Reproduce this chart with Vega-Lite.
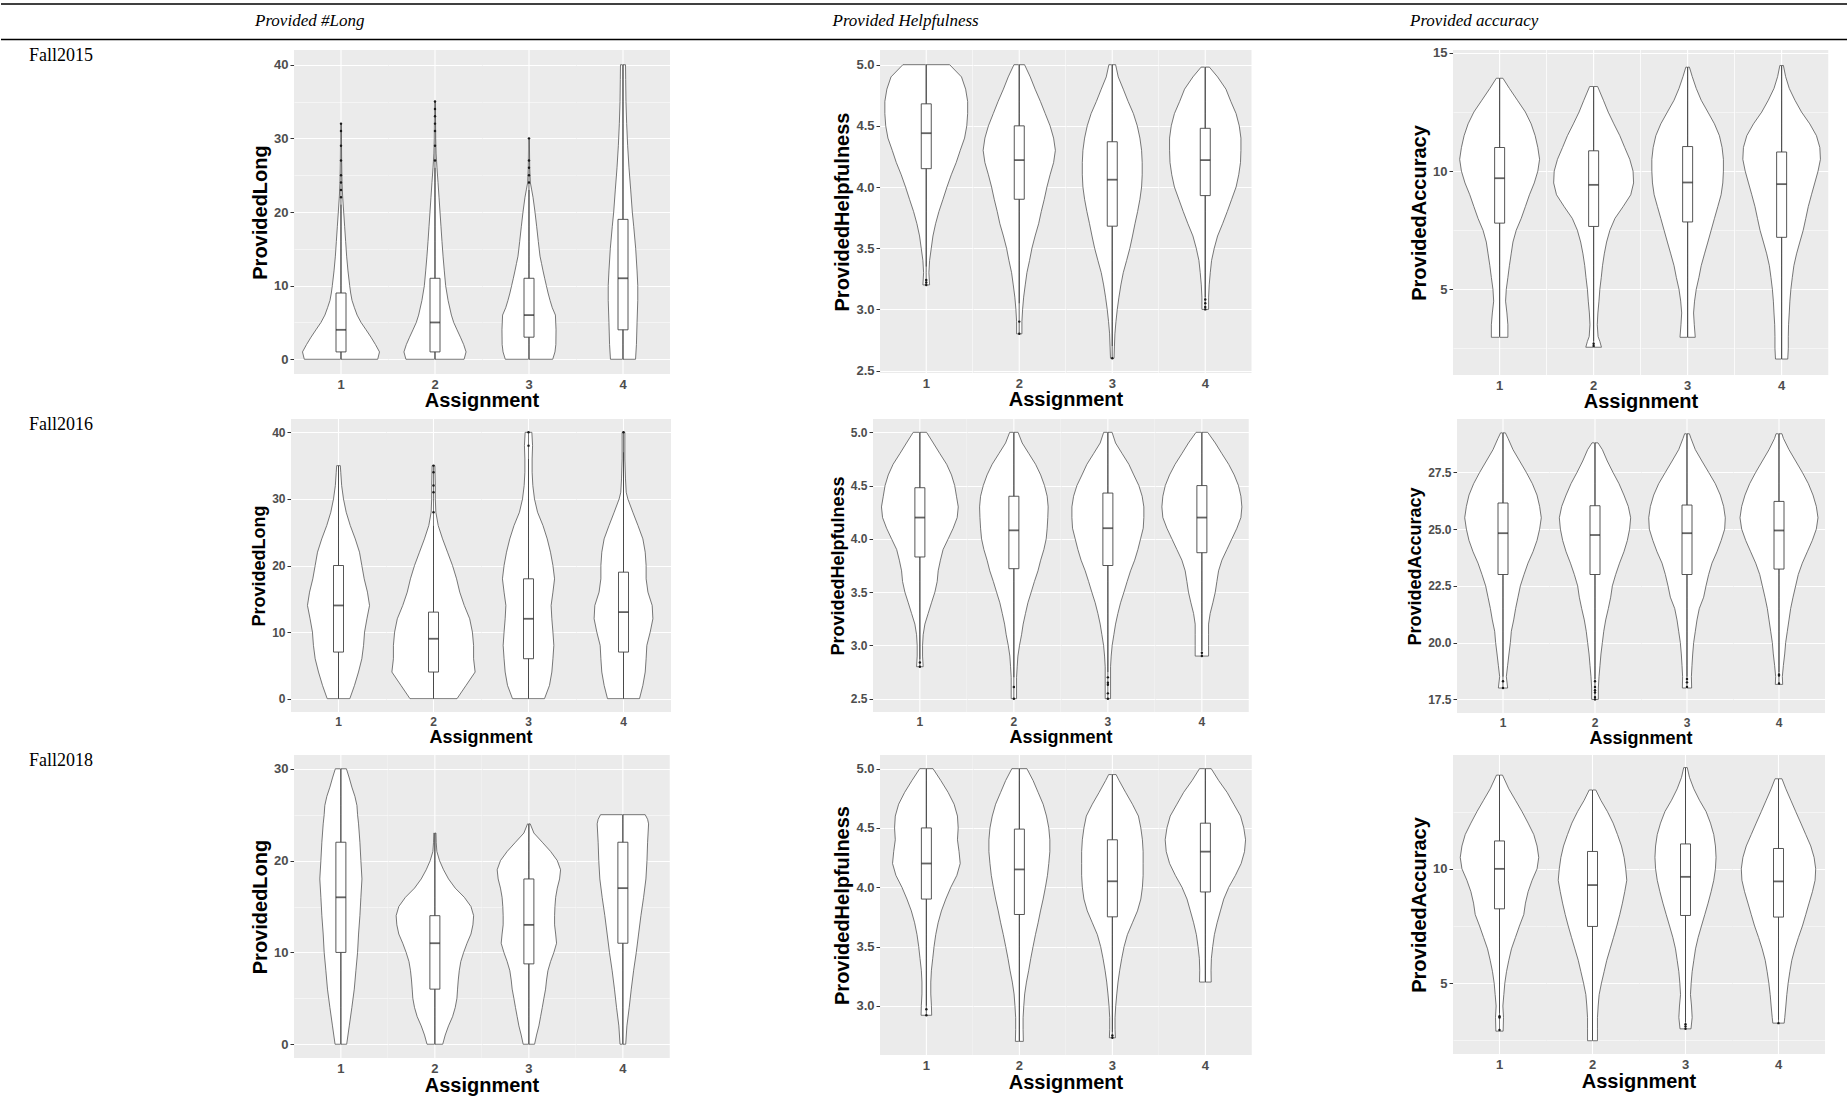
{
"$schema": "https://vega.github.io/schema/vega-lite/v6.json",
"padding": 0,
"background": "white",
"spacing": 4,
"config": {
  "view": {"stroke": null},
  "font": "Liberation Sans",
  "axis": {"labelFont": "Liberation Sans", "labelFontWeight": "bold", "labelColor": "#4D4D4D", "labelFontSize": 13, "titleFont": "Liberation Sans", "titleFontWeight": "bold", "titleFontSize": 20, "titleColor": "black", "tickColor": "#333333", "tickSize": 4, "domain": false, "gridColor": "white", "gridWidth": 1.1, "labelPadding": 2, "titlePadding": 3, "labelOverlap": false},
  "header": {"labelFont": "Liberation Sans", "labelFontWeight": "bold", "labelColor": "#4D4D4D", "labelFontSize": 13, "titleFont": "Liberation Sans", "titleFontWeight": "bold", "titleFontSize": 20, "titleColor": "black", "labelPadding": 4, "titlePadding": -11}
},
"datasets": {
"p11": [
{"k":"v","a":1,"y":0,"d":0.41},{"k":"v","a":1,"y":1,"d":0.43},{"k":"v","a":1,"y":2,"d":0.385},{"k":"v","a":1,"y":3,"d":0.335},{"k":"v","a":1,"y":4,"d":0.28},{"k":"v","a":1,"y":5,"d":0.224},{"k":"v","a":1,"y":6,"d":0.18},{"k":"v","a":1,"y":7,"d":0.15},{"k":"v","a":1,"y":8,"d":0.123},{"k":"v","a":1,"y":9,"d":0.108},{"k":"v","a":1,"y":10,"d":0.097},{"k":"v","a":1,"y":12,"d":0.078},{"k":"v","a":1,"y":14,"d":0.063},{"k":"v","a":1,"y":16,"d":0.052},{"k":"v","a":1,"y":18,"d":0.041},{"k":"v","a":1,"y":20,"d":0.03},{"k":"v","a":1,"y":22,"d":0.019},{"k":"v","a":1,"y":24,"d":0.011},{"k":"v","a":1,"y":27,"d":0.007},{"k":"v","a":1,"y":32,"d":0.004},
{"k":"v","a":2,"y":0,"d":0.325},{"k":"v","a":2,"y":1,"d":0.347},{"k":"v","a":2,"y":2,"d":0.32},{"k":"v","a":2,"y":3,"d":0.284},{"k":"v","a":2,"y":4,"d":0.246},{"k":"v","a":2,"y":5,"d":0.209},{"k":"v","a":2,"y":6,"d":0.183},{"k":"v","a":2,"y":8,"d":0.146},{"k":"v","a":2,"y":10,"d":0.119},{"k":"v","a":2,"y":12,"d":0.104},{"k":"v","a":2,"y":14,"d":0.09},{"k":"v","a":2,"y":16,"d":0.078},{"k":"v","a":2,"y":18,"d":0.067},{"k":"v","a":2,"y":20,"d":0.056},{"k":"v","a":2,"y":22,"d":0.045},{"k":"v","a":2,"y":24,"d":0.034},{"k":"v","a":2,"y":26,"d":0.022},{"k":"v","a":2,"y":28,"d":0.012},{"k":"v","a":2,"y":30,"d":0.008},{"k":"v","a":2,"y":35,"d":0.004},
{"k":"v","a":3,"y":0,"d":0.265},{"k":"v","a":3,"y":1,"d":0.29},{"k":"v","a":3,"y":2,"d":0.3},{"k":"v","a":3,"y":4,"d":0.302},{"k":"v","a":3,"y":6,"d":0.295},{"k":"v","a":3,"y":7,"d":0.26},{"k":"v","a":3,"y":8,"d":0.235},{"k":"v","a":3,"y":9,"d":0.213},{"k":"v","a":3,"y":10,"d":0.194},{"k":"v","a":3,"y":11,"d":0.175},{"k":"v","a":3,"y":12,"d":0.157},{"k":"v","a":3,"y":13,"d":0.14},{"k":"v","a":3,"y":14,"d":0.123},{"k":"v","a":3,"y":16,"d":0.104},{"k":"v","a":3,"y":18,"d":0.086},{"k":"v","a":3,"y":20,"d":0.067},{"k":"v","a":3,"y":22,"d":0.045},{"k":"v","a":3,"y":23,"d":0.03},{"k":"v","a":3,"y":24,"d":0.015},{"k":"v","a":3,"y":26,"d":0.008},{"k":"v","a":3,"y":30,"d":0.004},
{"k":"v","a":4,"y":0,"d":0.14},{"k":"v","a":4,"y":2,"d":0.15},{"k":"v","a":4,"y":5,"d":0.157},{"k":"v","a":4,"y":8,"d":0.165},{"k":"v","a":4,"y":10,"d":0.165},{"k":"v","a":4,"y":12,"d":0.157},{"k":"v","a":4,"y":15,"d":0.142},{"k":"v","a":4,"y":18,"d":0.12},{"k":"v","a":4,"y":20,"d":0.104},{"k":"v","a":4,"y":23,"d":0.086},{"k":"v","a":4,"y":26,"d":0.067},{"k":"v","a":4,"y":29,"d":0.052},{"k":"v","a":4,"y":32,"d":0.041},{"k":"v","a":4,"y":35,"d":0.033},{"k":"v","a":4,"y":38,"d":0.03},{"k":"v","a":4,"y":40,"d":0.028},
{"k":"b","a":1,"lo":0,"q1":1,"med":4,"q3":9,"hi":21},{"k":"b","a":2,"lo":0,"q1":1,"med":5,"q3":11,"hi":26},{"k":"b","a":3,"lo":0,"q1":3,"med":6,"q3":11,"hi":23},{"k":"b","a":4,"lo":0,"q1":4,"med":11,"q3":19,"hi":40},
{"k":"o","a":1,"y":22},{"k":"o","a":1,"y":23},{"k":"o","a":1,"y":24},{"k":"o","a":1,"y":25},{"k":"o","a":1,"y":27},{"k":"o","a":1,"y":29},{"k":"o","a":1,"y":31},{"k":"o","a":1,"y":32},
{"k":"o","a":2,"y":27},{"k":"o","a":2,"y":29},{"k":"o","a":2,"y":31},{"k":"o","a":2,"y":32},{"k":"o","a":2,"y":33},{"k":"o","a":2,"y":34},{"k":"o","a":2,"y":35},
{"k":"o","a":3,"y":24},{"k":"o","a":3,"y":25},{"k":"o","a":3,"y":26},{"k":"o","a":3,"y":27},{"k":"o","a":3,"y":30}
],
"p12": [
{"k":"v","a":1,"y":3.2,"d":0.038},{"k":"v","a":1,"y":3.3,"d":0.03},{"k":"v","a":1,"y":3.4,"d":0.038},{"k":"v","a":1,"y":3.5,"d":0.057},{"k":"v","a":1,"y":3.6,"d":0.076},{"k":"v","a":1,"y":3.7,"d":0.106},{"k":"v","a":1,"y":3.8,"d":0.144},{"k":"v","a":1,"y":3.9,"d":0.19},{"k":"v","a":1,"y":4.0,"d":0.235},{"k":"v","a":1,"y":4.1,"d":0.284},{"k":"v","a":1,"y":4.2,"d":0.34},{"k":"v","a":1,"y":4.3,"d":0.386},{"k":"v","a":1,"y":4.4,"d":0.435},{"k":"v","a":1,"y":4.5,"d":0.46},{"k":"v","a":1,"y":4.6,"d":0.47},{"k":"v","a":1,"y":4.7,"d":0.47},{"k":"v","a":1,"y":4.8,"d":0.447},{"k":"v","a":1,"y":4.9,"d":0.4},{"k":"v","a":1,"y":5.0,"d":0.265},
{"k":"v","a":2,"y":2.8,"d":0.03},{"k":"v","a":2,"y":2.9,"d":0.03},{"k":"v","a":2,"y":3.0,"d":0.038},{"k":"v","a":2,"y":3.1,"d":0.05},{"k":"v","a":2,"y":3.2,"d":0.068},{"k":"v","a":2,"y":3.3,"d":0.087},{"k":"v","a":2,"y":3.4,"d":0.117},{"k":"v","a":2,"y":3.5,"d":0.144},{"k":"v","a":2,"y":3.6,"d":0.18},{"k":"v","a":2,"y":3.7,"d":0.22},{"k":"v","a":2,"y":3.8,"d":0.25},{"k":"v","a":2,"y":3.9,"d":0.284},{"k":"v","a":2,"y":4.0,"d":0.314},{"k":"v","a":2,"y":4.1,"d":0.35},{"k":"v","a":2,"y":4.2,"d":0.39},{"k":"v","a":2,"y":4.3,"d":0.41},{"k":"v","a":2,"y":4.4,"d":0.39},{"k":"v","a":2,"y":4.5,"d":0.35},{"k":"v","a":2,"y":4.6,"d":0.295},{"k":"v","a":2,"y":4.7,"d":0.24},{"k":"v","a":2,"y":4.8,"d":0.18},{"k":"v","a":2,"y":4.9,"d":0.125},{"k":"v","a":2,"y":5.0,"d":0.06},
{"k":"v","a":3,"y":2.6,"d":0.02},{"k":"v","a":3,"y":2.7,"d":0.025},{"k":"v","a":3,"y":2.8,"d":0.03},{"k":"v","a":3,"y":2.9,"d":0.042},{"k":"v","a":3,"y":3.0,"d":0.057},{"k":"v","a":3,"y":3.1,"d":0.076},{"k":"v","a":3,"y":3.2,"d":0.098},{"k":"v","a":3,"y":3.3,"d":0.125},{"k":"v","a":3,"y":3.4,"d":0.163},{"k":"v","a":3,"y":3.5,"d":0.2},{"k":"v","a":3,"y":3.6,"d":0.23},{"k":"v","a":3,"y":3.7,"d":0.258},{"k":"v","a":3,"y":3.8,"d":0.288},{"k":"v","a":3,"y":3.9,"d":0.314},{"k":"v","a":3,"y":4.0,"d":0.333},{"k":"v","a":3,"y":4.1,"d":0.34},{"k":"v","a":3,"y":4.2,"d":0.34},{"k":"v","a":3,"y":4.3,"d":0.333},{"k":"v","a":3,"y":4.4,"d":0.314},{"k":"v","a":3,"y":4.5,"d":0.284},{"k":"v","a":3,"y":4.6,"d":0.24},{"k":"v","a":3,"y":4.7,"d":0.18},{"k":"v","a":3,"y":4.8,"d":0.125},{"k":"v","a":3,"y":4.9,"d":0.068},{"k":"v","a":3,"y":5.0,"d":0.038},
{"k":"v","a":4,"y":3.0,"d":0.038},{"k":"v","a":4,"y":3.1,"d":0.038},{"k":"v","a":4,"y":3.2,"d":0.045},{"k":"v","a":4,"y":3.3,"d":0.057},{"k":"v","a":4,"y":3.4,"d":0.072},{"k":"v","a":4,"y":3.5,"d":0.102},{"k":"v","a":4,"y":3.6,"d":0.14},{"k":"v","a":4,"y":3.7,"d":0.197},{"k":"v","a":4,"y":3.8,"d":0.25},{"k":"v","a":4,"y":3.9,"d":0.3},{"k":"v","a":4,"y":4.0,"d":0.35},{"k":"v","a":4,"y":4.1,"d":0.38},{"k":"v","a":4,"y":4.2,"d":0.4},{"k":"v","a":4,"y":4.3,"d":0.405},{"k":"v","a":4,"y":4.4,"d":0.405},{"k":"v","a":4,"y":4.5,"d":0.386},{"k":"v","a":4,"y":4.6,"d":0.35},{"k":"v","a":4,"y":4.7,"d":0.29},{"k":"v","a":4,"y":4.8,"d":0.235},{"k":"v","a":4,"y":4.9,"d":0.14},{"k":"v","a":4,"y":4.98,"d":0.047},
{"k":"b","a":1,"lo":3.35,"q1":4.15,"med":4.44,"q3":4.68,"hi":5.0},{"k":"b","a":2,"lo":3.05,"q1":3.9,"med":4.22,"q3":4.5,"hi":5.0},{"k":"b","a":3,"lo":2.7,"q1":3.68,"med":4.06,"q3":4.37,"hi":5.0},{"k":"b","a":4,"lo":3.1,"q1":3.93,"med":4.22,"q3":4.48,"hi":4.98},
{"k":"o","a":1,"y":3.24},{"k":"o","a":1,"y":3.22},{"k":"o","a":1,"y":3.2},{"k":"o","a":2,"y":2.9},{"k":"o","a":2,"y":2.8},{"k":"o","a":3,"y":2.6},{"k":"o","a":4,"y":3.08},{"k":"o","a":4,"y":3.05},{"k":"o","a":4,"y":3.02},{"k":"o","a":4,"y":3.0}
],
"p13": [
{"k":"v","a":1,"y":2.97,"d":0.093},{"k":"v","a":1,"y":3.5,"d":0.093},{"k":"v","a":1,"y":4,"d":0.082},{"k":"v","a":1,"y":4.5,"d":0.067},{"k":"v","a":1,"y":5,"d":0.075},{"k":"v","a":1,"y":5.5,"d":0.093},{"k":"v","a":1,"y":6,"d":0.11},{"k":"v","a":1,"y":6.5,"d":0.13},{"k":"v","a":1,"y":7,"d":0.15},{"k":"v","a":1,"y":7.5,"d":0.187},{"k":"v","a":1,"y":8,"d":0.243},{"k":"v","a":1,"y":8.5,"d":0.29},{"k":"v","a":1,"y":9,"d":0.336},{"k":"v","a":1,"y":9.5,"d":0.39},{"k":"v","a":1,"y":10,"d":0.43},{"k":"v","a":1,"y":10.5,"d":0.45},{"k":"v","a":1,"y":11,"d":0.43},{"k":"v","a":1,"y":11.5,"d":0.4},{"k":"v","a":1,"y":12,"d":0.355},{"k":"v","a":1,"y":12.5,"d":0.29},{"k":"v","a":1,"y":13,"d":0.2},{"k":"v","a":1,"y":13.5,"d":0.11},{"k":"v","a":1,"y":13.93,"d":0.037},
{"k":"v","a":2,"y":2.55,"d":0.088},{"k":"v","a":2,"y":2.8,"d":0.07},{"k":"v","a":2,"y":3,"d":0.05},{"k":"v","a":2,"y":3.5,"d":0.041},{"k":"v","a":2,"y":4,"d":0.048},{"k":"v","a":2,"y":4.5,"d":0.06},{"k":"v","a":2,"y":5,"d":0.07},{"k":"v","a":2,"y":5.5,"d":0.086},{"k":"v","a":2,"y":6,"d":0.1},{"k":"v","a":2,"y":6.5,"d":0.12},{"k":"v","a":2,"y":7,"d":0.146},{"k":"v","a":2,"y":7.5,"d":0.183},{"k":"v","a":2,"y":8,"d":0.24},{"k":"v","a":2,"y":8.5,"d":0.332},{"k":"v","a":2,"y":9,"d":0.418},{"k":"v","a":2,"y":9.5,"d":0.45},{"k":"v","a":2,"y":10,"d":0.444},{"k":"v","a":2,"y":10.5,"d":0.407},{"k":"v","a":2,"y":11,"d":0.35},{"k":"v","a":2,"y":11.5,"d":0.295},{"k":"v","a":2,"y":12,"d":0.228},{"k":"v","a":2,"y":12.5,"d":0.164},{"k":"v","a":2,"y":13,"d":0.11},{"k":"v","a":2,"y":13.58,"d":0.045},
{"k":"v","a":3,"y":2.97,"d":0.086},{"k":"v","a":3,"y":3.5,"d":0.075},{"k":"v","a":3,"y":4,"d":0.067},{"k":"v","a":3,"y":4.5,"d":0.078},{"k":"v","a":3,"y":5,"d":0.097},{"k":"v","a":3,"y":5.5,"d":0.127},{"k":"v","a":3,"y":6,"d":0.153},{"k":"v","a":3,"y":6.5,"d":0.19},{"k":"v","a":3,"y":7,"d":0.228},{"k":"v","a":3,"y":7.5,"d":0.265},{"k":"v","a":3,"y":8,"d":0.302},{"k":"v","a":3,"y":8.5,"d":0.34},{"k":"v","a":3,"y":9,"d":0.377},{"k":"v","a":3,"y":9.5,"d":0.396},{"k":"v","a":3,"y":10,"d":0.403},{"k":"v","a":3,"y":10.5,"d":0.403},{"k":"v","a":3,"y":11,"d":0.388},{"k":"v","a":3,"y":11.5,"d":0.358},{"k":"v","a":3,"y":12,"d":0.302},{"k":"v","a":3,"y":12.5,"d":0.228},{"k":"v","a":3,"y":13,"d":0.153},{"k":"v","a":3,"y":13.5,"d":0.097},{"k":"v","a":3,"y":14,"d":0.052},{"k":"v","a":3,"y":14.4,"d":0.02},
{"k":"v","a":4,"y":2.05,"d":0.069},{"k":"v","a":4,"y":2.5,"d":0.075},{"k":"v","a":4,"y":3,"d":0.075},{"k":"v","a":4,"y":3.5,"d":0.078},{"k":"v","a":4,"y":4,"d":0.086},{"k":"v","a":4,"y":4.5,"d":0.093},{"k":"v","a":4,"y":5,"d":0.104},{"k":"v","a":4,"y":5.5,"d":0.12},{"k":"v","a":4,"y":6,"d":0.138},{"k":"v","a":4,"y":6.5,"d":0.168},{"k":"v","a":4,"y":7,"d":0.205},{"k":"v","a":4,"y":7.5,"d":0.243},{"k":"v","a":4,"y":8,"d":0.272},{"k":"v","a":4,"y":8.5,"d":0.3},{"k":"v","a":4,"y":9,"d":0.336},{"k":"v","a":4,"y":9.5,"d":0.373},{"k":"v","a":4,"y":10,"d":0.41},{"k":"v","a":4,"y":10.5,"d":0.437},{"k":"v","a":4,"y":11,"d":0.43},{"k":"v","a":4,"y":11.5,"d":0.392},{"k":"v","a":4,"y":12,"d":0.317},{"k":"v","a":4,"y":12.5,"d":0.224},{"k":"v","a":4,"y":13,"d":0.15},{"k":"v","a":4,"y":13.5,"d":0.086},{"k":"v","a":4,"y":14,"d":0.045},{"k":"v","a":4,"y":14.47,"d":0.02},
{"k":"b","a":1,"lo":3.0,"q1":7.8,"med":9.7,"q3":11.0,"hi":13.93},{"k":"b","a":2,"lo":2.8,"q1":7.66,"med":9.42,"q3":10.86,"hi":13.58},{"k":"b","a":3,"lo":2.97,"q1":7.85,"med":9.52,"q3":11.04,"hi":14.4},{"k":"b","a":4,"lo":2.05,"q1":7.2,"med":9.45,"q3":10.81,"hi":14.47},
{"k":"o","a":2,"y":2.7},{"k":"o","a":2,"y":2.6}
],
"p21": [
{"k":"v","a":1,"y":0,"d":0.125},{"k":"v","a":1,"y":2,"d":0.177},{"k":"v","a":1,"y":4,"d":0.221},{"k":"v","a":1,"y":6,"d":0.258},{"k":"v","a":1,"y":8,"d":0.277},{"k":"v","a":1,"y":10,"d":0.288},{"k":"v","a":1,"y":12,"d":0.314},{"k":"v","a":1,"y":14,"d":0.343},{"k":"v","a":1,"y":16,"d":0.32},{"k":"v","a":1,"y":18,"d":0.284},{"k":"v","a":1,"y":20,"d":0.258},{"k":"v","a":1,"y":22,"d":0.232},{"k":"v","a":1,"y":24,"d":0.185},{"k":"v","a":1,"y":26,"d":0.13},{"k":"v","a":1,"y":28,"d":0.085},{"k":"v","a":1,"y":30,"d":0.055},{"k":"v","a":1,"y":32,"d":0.035},{"k":"v","a":1,"y":34,"d":0.025},{"k":"v","a":1,"y":35,"d":0.02},
{"k":"v","a":2,"y":0,"d":0.26},{"k":"v","a":2,"y":2,"d":0.36},{"k":"v","a":2,"y":4,"d":0.46},{"k":"v","a":2,"y":6,"d":0.443},{"k":"v","a":2,"y":8,"d":0.443},{"k":"v","a":2,"y":10,"d":0.43},{"k":"v","a":2,"y":12,"d":0.4},{"k":"v","a":2,"y":14,"d":0.34},{"k":"v","a":2,"y":16,"d":0.29},{"k":"v","a":2,"y":18,"d":0.255},{"k":"v","a":2,"y":20,"d":0.21},{"k":"v","a":2,"y":22,"d":0.155},{"k":"v","a":2,"y":24,"d":0.1},{"k":"v","a":2,"y":26,"d":0.052},{"k":"v","a":2,"y":28,"d":0.026},{"k":"v","a":2,"y":30,"d":0.02},{"k":"v","a":2,"y":32,"d":0.02},{"k":"v","a":2,"y":35,"d":0.015},
{"k":"v","a":3,"y":0,"d":0.177},{"k":"v","a":3,"y":2,"d":0.232},{"k":"v","a":3,"y":4,"d":0.258},{"k":"v","a":3,"y":6,"d":0.27},{"k":"v","a":3,"y":8,"d":0.28},{"k":"v","a":3,"y":10,"d":0.27},{"k":"v","a":3,"y":12,"d":0.258},{"k":"v","a":3,"y":14,"d":0.25},{"k":"v","a":3,"y":16,"d":0.27},{"k":"v","a":3,"y":18,"d":0.288},{"k":"v","a":3,"y":20,"d":0.27},{"k":"v","a":3,"y":22,"d":0.243},{"k":"v","a":3,"y":24,"d":0.207},{"k":"v","a":3,"y":26,"d":0.16},{"k":"v","a":3,"y":28,"d":0.1},{"k":"v","a":3,"y":30,"d":0.066},{"k":"v","a":3,"y":32,"d":0.048},{"k":"v","a":3,"y":34,"d":0.04},{"k":"v","a":3,"y":36,"d":0.04},{"k":"v","a":3,"y":38,"d":0.045},{"k":"v","a":3,"y":40,"d":0.037},
{"k":"v","a":4,"y":0,"d":0.177},{"k":"v","a":4,"y":2,"d":0.214},{"k":"v","a":4,"y":4,"d":0.24},{"k":"v","a":4,"y":6,"d":0.25},{"k":"v","a":4,"y":8,"d":0.258},{"k":"v","a":4,"y":10,"d":0.295},{"k":"v","a":4,"y":12,"d":0.325},{"k":"v","a":4,"y":14,"d":0.317},{"k":"v","a":4,"y":16,"d":0.27},{"k":"v","a":4,"y":18,"d":0.25},{"k":"v","a":4,"y":20,"d":0.25},{"k":"v","a":4,"y":22,"d":0.24},{"k":"v","a":4,"y":24,"d":0.214},{"k":"v","a":4,"y":26,"d":0.16},{"k":"v","a":4,"y":28,"d":0.103},{"k":"v","a":4,"y":30,"d":0.048},{"k":"v","a":4,"y":31,"d":0.03},{"k":"v","a":4,"y":33,"d":0.022},{"k":"v","a":4,"y":36,"d":0.015},{"k":"v","a":4,"y":40,"d":0.015},
{"k":"b","a":1,"lo":0,"q1":7,"med":14,"q3":20,"hi":35},{"k":"b","a":2,"lo":0,"q1":4,"med":9,"q3":13,"hi":26},{"k":"b","a":3,"lo":0,"q1":6,"med":12,"q3":18,"hi":36},{"k":"b","a":4,"lo":0,"q1":7,"med":13,"q3":19,"hi":37},
{"k":"o","a":2,"y":28},{"k":"o","a":2,"y":31},{"k":"o","a":2,"y":32},{"k":"o","a":2,"y":34},{"k":"o","a":2,"y":35},{"k":"o","a":3,"y":38},{"k":"o","a":3,"y":40},{"k":"o","a":4,"y":40}
],
"p22": [
{"k":"v","a":1,"y":2.8,"d":0.037},{"k":"v","a":1,"y":2.9,"d":0.03},{"k":"v","a":1,"y":3.0,"d":0.03},{"k":"v","a":1,"y":3.1,"d":0.037},{"k":"v","a":1,"y":3.2,"d":0.056},{"k":"v","a":1,"y":3.3,"d":0.093},{"k":"v","a":1,"y":3.4,"d":0.13},{"k":"v","a":1,"y":3.5,"d":0.168},{"k":"v","a":1,"y":3.6,"d":0.194},{"k":"v","a":1,"y":3.7,"d":0.205},{"k":"v","a":1,"y":3.8,"d":0.23},{"k":"v","a":1,"y":3.9,"d":0.26},{"k":"v","a":1,"y":4.0,"d":0.317},{"k":"v","a":1,"y":4.1,"d":0.373},{"k":"v","a":1,"y":4.2,"d":0.418},{"k":"v","a":1,"y":4.3,"d":0.43},{"k":"v","a":1,"y":4.4,"d":0.41},{"k":"v","a":1,"y":4.5,"d":0.39},{"k":"v","a":1,"y":4.6,"d":0.354},{"k":"v","a":1,"y":4.7,"d":0.3},{"k":"v","a":1,"y":4.8,"d":0.224},{"k":"v","a":1,"y":4.9,"d":0.15},{"k":"v","a":1,"y":5.0,"d":0.075},
{"k":"v","a":2,"y":2.5,"d":0.03},{"k":"v","a":2,"y":2.6,"d":0.03},{"k":"v","a":2,"y":2.7,"d":0.03},{"k":"v","a":2,"y":2.8,"d":0.037},{"k":"v","a":2,"y":2.9,"d":0.045},{"k":"v","a":2,"y":3.0,"d":0.063},{"k":"v","a":2,"y":3.1,"d":0.086},{"k":"v","a":2,"y":3.2,"d":0.104},{"k":"v","a":2,"y":3.3,"d":0.13},{"k":"v","a":2,"y":3.4,"d":0.157},{"k":"v","a":2,"y":3.5,"d":0.194},{"k":"v","a":2,"y":3.6,"d":0.23},{"k":"v","a":2,"y":3.7,"d":0.27},{"k":"v","a":2,"y":3.8,"d":0.3},{"k":"v","a":2,"y":3.9,"d":0.336},{"k":"v","a":2,"y":4.0,"d":0.362},{"k":"v","a":2,"y":4.1,"d":0.373},{"k":"v","a":2,"y":4.2,"d":0.38},{"k":"v","a":2,"y":4.3,"d":0.384},{"k":"v","a":2,"y":4.4,"d":0.373},{"k":"v","a":2,"y":4.5,"d":0.343},{"k":"v","a":2,"y":4.6,"d":0.3},{"k":"v","a":2,"y":4.7,"d":0.243},{"k":"v","a":2,"y":4.8,"d":0.168},{"k":"v","a":2,"y":4.9,"d":0.093},{"k":"v","a":2,"y":5.0,"d":0.047},
{"k":"v","a":3,"y":2.5,"d":0.03},{"k":"v","a":3,"y":2.6,"d":0.03},{"k":"v","a":3,"y":2.8,"d":0.03},{"k":"v","a":3,"y":2.9,"d":0.037},{"k":"v","a":3,"y":3.0,"d":0.048},{"k":"v","a":3,"y":3.1,"d":0.067},{"k":"v","a":3,"y":3.2,"d":0.086},{"k":"v","a":3,"y":3.3,"d":0.112},{"k":"v","a":3,"y":3.4,"d":0.142},{"k":"v","a":3,"y":3.5,"d":0.18},{"k":"v","a":3,"y":3.6,"d":0.216},{"k":"v","a":3,"y":3.7,"d":0.254},{"k":"v","a":3,"y":3.8,"d":0.3},{"k":"v","a":3,"y":3.9,"d":0.336},{"k":"v","a":3,"y":4.0,"d":0.366},{"k":"v","a":3,"y":4.1,"d":0.396},{"k":"v","a":3,"y":4.2,"d":0.403},{"k":"v","a":3,"y":4.3,"d":0.403},{"k":"v","a":3,"y":4.4,"d":0.384},{"k":"v","a":3,"y":4.5,"d":0.347},{"k":"v","a":3,"y":4.6,"d":0.29},{"k":"v","a":3,"y":4.7,"d":0.235},{"k":"v","a":3,"y":4.8,"d":0.16},{"k":"v","a":3,"y":4.9,"d":0.086},{"k":"v","a":3,"y":5.0,"d":0.047},
{"k":"v","a":4,"y":2.9,"d":0.075},{"k":"v","a":4,"y":3.0,"d":0.075},{"k":"v","a":4,"y":3.1,"d":0.075},{"k":"v","a":4,"y":3.2,"d":0.075},{"k":"v","a":4,"y":3.3,"d":0.093},{"k":"v","a":4,"y":3.4,"d":0.123},{"k":"v","a":4,"y":3.5,"d":0.15},{"k":"v","a":4,"y":3.6,"d":0.168},{"k":"v","a":4,"y":3.7,"d":0.187},{"k":"v","a":4,"y":3.8,"d":0.224},{"k":"v","a":4,"y":3.9,"d":0.28},{"k":"v","a":4,"y":4.0,"d":0.336},{"k":"v","a":4,"y":4.1,"d":0.392},{"k":"v","a":4,"y":4.2,"d":0.437},{"k":"v","a":4,"y":4.3,"d":0.448},{"k":"v","a":4,"y":4.4,"d":0.437},{"k":"v","a":4,"y":4.5,"d":0.41},{"k":"v","a":4,"y":4.6,"d":0.362},{"k":"v","a":4,"y":4.7,"d":0.3},{"k":"v","a":4,"y":4.8,"d":0.224},{"k":"v","a":4,"y":4.9,"d":0.15},{"k":"v","a":4,"y":5.0,"d":0.065},
{"k":"b","a":1,"lo":2.87,"q1":3.83,"med":4.2,"q3":4.48,"hi":5.0},{"k":"b","a":2,"lo":2.7,"q1":3.72,"med":4.08,"q3":4.4,"hi":5.0},{"k":"b","a":3,"lo":2.75,"q1":3.75,"med":4.1,"q3":4.43,"hi":5.0},{"k":"b","a":4,"lo":2.95,"q1":3.87,"med":4.2,"q3":4.5,"hi":5.0},
{"k":"o","a":1,"y":2.84},{"k":"o","a":1,"y":2.8},{"k":"o","a":2,"y":2.61},{"k":"o","a":2,"y":2.5},{"k":"o","a":3,"y":2.7},{"k":"o","a":3,"y":2.65},{"k":"o","a":3,"y":2.63},{"k":"o","a":3,"y":2.55},{"k":"o","a":3,"y":2.5},{"k":"o","a":4,"y":2.93},{"k":"o","a":4,"y":2.9}
],
"p23": [
{"k":"v","a":1,"y":18.0,"d":0.053},{"k":"v","a":1,"y":18.5,"d":0.038},{"k":"v","a":1,"y":19.0,"d":0.053},{"k":"v","a":1,"y":19.5,"d":0.068},{"k":"v","a":1,"y":20.0,"d":0.084},{"k":"v","a":1,"y":20.5,"d":0.095},{"k":"v","a":1,"y":21.0,"d":0.122},{"k":"v","a":1,"y":21.5,"d":0.144},{"k":"v","a":1,"y":22.0,"d":0.171},{"k":"v","a":1,"y":22.5,"d":0.198},{"k":"v","a":1,"y":23.0,"d":0.24},{"k":"v","a":1,"y":23.5,"d":0.285},{"k":"v","a":1,"y":24.0,"d":0.342},{"k":"v","a":1,"y":24.5,"d":0.388},{"k":"v","a":1,"y":25.0,"d":0.418},{"k":"v","a":1,"y":25.5,"d":0.437},{"k":"v","a":1,"y":26.0,"d":0.418},{"k":"v","a":1,"y":26.5,"d":0.388},{"k":"v","a":1,"y":27.0,"d":0.335},{"k":"v","a":1,"y":27.5,"d":0.266},{"k":"v","a":1,"y":28.0,"d":0.19},{"k":"v","a":1,"y":28.5,"d":0.114},{"k":"v","a":1,"y":29.0,"d":0.057},{"k":"v","a":1,"y":29.24,"d":0.027},
{"k":"v","a":2,"y":17.5,"d":0.038},{"k":"v","a":2,"y":18.0,"d":0.038},{"k":"v","a":2,"y":18.5,"d":0.046},{"k":"v","a":2,"y":19.0,"d":0.057},{"k":"v","a":2,"y":19.5,"d":0.068},{"k":"v","a":2,"y":20.0,"d":0.084},{"k":"v","a":2,"y":20.5,"d":0.1},{"k":"v","a":2,"y":21.0,"d":0.122},{"k":"v","a":2,"y":21.5,"d":0.152},{"k":"v","a":2,"y":22.0,"d":0.179},{"k":"v","a":2,"y":22.5,"d":0.198},{"k":"v","a":2,"y":23.0,"d":0.236},{"k":"v","a":2,"y":23.5,"d":0.28},{"k":"v","a":2,"y":24.0,"d":0.33},{"k":"v","a":2,"y":24.5,"d":0.369},{"k":"v","a":2,"y":25.0,"d":0.395},{"k":"v","a":2,"y":25.5,"d":0.407},{"k":"v","a":2,"y":26.0,"d":0.38},{"k":"v","a":2,"y":26.5,"d":0.33},{"k":"v","a":2,"y":27.0,"d":0.274},{"k":"v","a":2,"y":27.5,"d":0.205},{"k":"v","a":2,"y":28.0,"d":0.14},{"k":"v","a":2,"y":28.5,"d":0.084},{"k":"v","a":2,"y":28.8,"d":0.034},
{"k":"v","a":3,"y":18.0,"d":0.053},{"k":"v","a":3,"y":18.5,"d":0.05},{"k":"v","a":3,"y":19.0,"d":0.057},{"k":"v","a":3,"y":19.5,"d":0.065},{"k":"v","a":3,"y":20.0,"d":0.076},{"k":"v","a":3,"y":20.5,"d":0.095},{"k":"v","a":3,"y":21.0,"d":0.114},{"k":"v","a":3,"y":21.5,"d":0.14},{"k":"v","a":3,"y":22.0,"d":0.19},{"k":"v","a":3,"y":22.5,"d":0.217},{"k":"v","a":3,"y":23.0,"d":0.247},{"k":"v","a":3,"y":23.5,"d":0.285},{"k":"v","a":3,"y":24.0,"d":0.342},{"k":"v","a":3,"y":24.5,"d":0.39},{"k":"v","a":3,"y":25.0,"d":0.43},{"k":"v","a":3,"y":25.5,"d":0.437},{"k":"v","a":3,"y":26.0,"d":0.418},{"k":"v","a":3,"y":26.5,"d":0.38},{"k":"v","a":3,"y":27.0,"d":0.323},{"k":"v","a":3,"y":27.5,"d":0.247},{"k":"v","a":3,"y":28.0,"d":0.17},{"k":"v","a":3,"y":28.5,"d":0.095},{"k":"v","a":3,"y":29.0,"d":0.045},{"k":"v","a":3,"y":29.2,"d":0.027},
{"k":"v","a":4,"y":18.16,"d":0.042},{"k":"v","a":4,"y":18.5,"d":0.038},{"k":"v","a":4,"y":19.0,"d":0.05},{"k":"v","a":4,"y":19.5,"d":0.065},{"k":"v","a":4,"y":20.0,"d":0.076},{"k":"v","a":4,"y":20.5,"d":0.095},{"k":"v","a":4,"y":21.0,"d":0.114},{"k":"v","a":4,"y":21.5,"d":0.133},{"k":"v","a":4,"y":22.0,"d":0.16},{"k":"v","a":4,"y":22.5,"d":0.19},{"k":"v","a":4,"y":23.0,"d":0.22},{"k":"v","a":4,"y":23.5,"d":0.266},{"k":"v","a":4,"y":24.0,"d":0.323},{"k":"v","a":4,"y":24.5,"d":0.38},{"k":"v","a":4,"y":25.0,"d":0.426},{"k":"v","a":4,"y":25.5,"d":0.445},{"k":"v","a":4,"y":26.0,"d":0.426},{"k":"v","a":4,"y":26.5,"d":0.388},{"k":"v","a":4,"y":27.0,"d":0.335},{"k":"v","a":4,"y":27.5,"d":0.266},{"k":"v","a":4,"y":28.0,"d":0.19},{"k":"v","a":4,"y":28.5,"d":0.114},{"k":"v","a":4,"y":29.0,"d":0.05},{"k":"v","a":4,"y":29.2,"d":0.034},
{"k":"b","a":1,"lo":18.5,"q1":23.0,"med":24.82,"q3":26.15,"hi":29.24},{"k":"b","a":2,"lo":18.4,"q1":23.0,"med":24.74,"q3":26.03,"hi":28.8},{"k":"b","a":3,"lo":18.5,"q1":23.0,"med":24.82,"q3":26.06,"hi":29.2},{"k":"b","a":4,"lo":18.7,"q1":23.24,"med":24.94,"q3":26.22,"hi":29.2},
{"k":"o","a":1,"y":18.3},{"k":"o","a":1,"y":18.0},{"k":"o","a":2,"y":18.3},{"k":"o","a":2,"y":18.05},{"k":"o","a":2,"y":17.9},{"k":"o","a":2,"y":17.8},{"k":"o","a":2,"y":17.6},{"k":"o","a":2,"y":17.5},{"k":"o","a":3,"y":18.4},{"k":"o","a":3,"y":18.25},{"k":"o","a":3,"y":18.05},{"k":"o","a":4,"y":18.6},{"k":"o","a":4,"y":18.55},{"k":"o","a":4,"y":18.2}
],
"p31": [
{"k":"v","a":1,"y":0,"d":0.065},{"k":"v","a":1,"y":2,"d":0.094},{"k":"v","a":1,"y":4,"d":0.123},{"k":"v","a":1,"y":6,"d":0.15},{"k":"v","a":1,"y":8,"d":0.168},{"k":"v","a":1,"y":10,"d":0.187},{"k":"v","a":1,"y":12,"d":0.198},{"k":"v","a":1,"y":14,"d":0.213},{"k":"v","a":1,"y":16,"d":0.224},{"k":"v","a":1,"y":18,"d":0.236},{"k":"v","a":1,"y":20,"d":0.224},{"k":"v","a":1,"y":22,"d":0.213},{"k":"v","a":1,"y":24,"d":0.198},{"k":"v","a":1,"y":25,"d":0.187},{"k":"v","a":1,"y":26,"d":0.18},{"k":"v","a":1,"y":27,"d":0.157},{"k":"v","a":1,"y":28,"d":0.123},{"k":"v","a":1,"y":29,"d":0.094},{"k":"v","a":1,"y":30,"d":0.062},
{"k":"v","a":2,"y":0,"d":0.088},{"k":"v","a":2,"y":1,"d":0.116},{"k":"v","a":2,"y":2,"d":0.153},{"k":"v","a":2,"y":3,"d":0.198},{"k":"v","a":2,"y":4,"d":0.228},{"k":"v","a":2,"y":5,"d":0.247},{"k":"v","a":2,"y":6,"d":0.254},{"k":"v","a":2,"y":7,"d":0.262},{"k":"v","a":2,"y":8,"d":0.273},{"k":"v","a":2,"y":9,"d":0.29},{"k":"v","a":2,"y":10,"d":0.322},{"k":"v","a":2,"y":11,"d":0.36},{"k":"v","a":2,"y":12,"d":0.404},{"k":"v","a":2,"y":13,"d":0.426},{"k":"v","a":2,"y":14,"d":0.434},{"k":"v","a":2,"y":15,"d":0.404},{"k":"v","a":2,"y":16,"d":0.33},{"k":"v","a":2,"y":17,"d":0.228},{"k":"v","a":2,"y":18,"d":0.153},{"k":"v","a":2,"y":19,"d":0.097},{"k":"v","a":2,"y":20,"d":0.052},{"k":"v","a":2,"y":21,"d":0.022},{"k":"v","a":2,"y":22,"d":0.015},{"k":"v","a":2,"y":23,"d":0.012},
{"k":"v","a":3,"y":0,"d":0.064},{"k":"v","a":3,"y":1,"d":0.086},{"k":"v","a":3,"y":2,"d":0.112},{"k":"v","a":3,"y":3,"d":0.131},{"k":"v","a":3,"y":4,"d":0.15},{"k":"v","a":3,"y":5,"d":0.168},{"k":"v","a":3,"y":6,"d":0.187},{"k":"v","a":3,"y":7,"d":0.198},{"k":"v","a":3,"y":8,"d":0.213},{"k":"v","a":3,"y":9,"d":0.243},{"k":"v","a":3,"y":10,"d":0.28},{"k":"v","a":3,"y":11,"d":0.31},{"k":"v","a":3,"y":12,"d":0.3},{"k":"v","a":3,"y":13,"d":0.288},{"k":"v","a":3,"y":14,"d":0.288},{"k":"v","a":3,"y":15,"d":0.292},{"k":"v","a":3,"y":16,"d":0.3},{"k":"v","a":3,"y":17,"d":0.318},{"k":"v","a":3,"y":18,"d":0.344},{"k":"v","a":3,"y":19,"d":0.355},{"k":"v","a":3,"y":20,"d":0.318},{"k":"v","a":3,"y":21,"d":0.243},{"k":"v","a":3,"y":22,"d":0.15},{"k":"v","a":3,"y":23,"d":0.056},{"k":"v","a":3,"y":24,"d":0.015},
{"k":"v","a":4,"y":0,"d":0.032},{"k":"v","a":4,"y":2,"d":0.045},{"k":"v","a":4,"y":4,"d":0.071},{"k":"v","a":4,"y":6,"d":0.094},{"k":"v","a":4,"y":8,"d":0.12},{"k":"v","a":4,"y":10,"d":0.15},{"k":"v","a":4,"y":12,"d":0.176},{"k":"v","a":4,"y":14,"d":0.202},{"k":"v","a":4,"y":16,"d":0.232},{"k":"v","a":4,"y":18,"d":0.258},{"k":"v","a":4,"y":20,"d":0.27},{"k":"v","a":4,"y":22,"d":0.277},{"k":"v","a":4,"y":24,"d":0.288},{"k":"v","a":4,"y":24.5,"d":0.277},{"k":"v","a":4,"y":25,"d":0.25},
{"k":"b","a":1,"lo":0,"q1":10,"med":16,"q3":22,"hi":30},{"k":"b","a":2,"lo":0,"q1":6,"med":11,"q3":14,"hi":23},{"k":"b","a":3,"lo":0,"q1":8.75,"med":13,"q3":18,"hi":24},{"k":"b","a":4,"lo":0,"q1":11,"med":17,"q3":22,"hi":25}
],
"p32": [
{"k":"v","a":1,"y":2.92,"d":0.06},{"k":"v","a":1,"y":3.0,"d":0.057},{"k":"v","a":1,"y":3.1,"d":0.05},{"k":"v","a":1,"y":3.2,"d":0.05},{"k":"v","a":1,"y":3.3,"d":0.057},{"k":"v","a":1,"y":3.4,"d":0.072},{"k":"v","a":1,"y":3.5,"d":0.087},{"k":"v","a":1,"y":3.6,"d":0.106},{"k":"v","a":1,"y":3.7,"d":0.133},{"k":"v","a":1,"y":3.8,"d":0.17},{"k":"v","a":1,"y":3.9,"d":0.22},{"k":"v","a":1,"y":4.0,"d":0.277},{"k":"v","a":1,"y":4.1,"d":0.345},{"k":"v","a":1,"y":4.2,"d":0.383},{"k":"v","a":1,"y":4.3,"d":0.37},{"k":"v","a":1,"y":4.4,"d":0.352},{"k":"v","a":1,"y":4.5,"d":0.36},{"k":"v","a":1,"y":4.6,"d":0.352},{"k":"v","a":1,"y":4.7,"d":0.314},{"k":"v","a":1,"y":4.8,"d":0.246},{"k":"v","a":1,"y":4.9,"d":0.163},{"k":"v","a":1,"y":5.0,"d":0.075},
{"k":"v","a":2,"y":2.7,"d":0.045},{"k":"v","a":2,"y":2.8,"d":0.042},{"k":"v","a":2,"y":2.9,"d":0.042},{"k":"v","a":2,"y":3.0,"d":0.05},{"k":"v","a":2,"y":3.1,"d":0.06},{"k":"v","a":2,"y":3.2,"d":0.08},{"k":"v","a":2,"y":3.3,"d":0.106},{"k":"v","a":2,"y":3.4,"d":0.129},{"k":"v","a":2,"y":3.5,"d":0.155},{"k":"v","a":2,"y":3.6,"d":0.182},{"k":"v","a":2,"y":3.7,"d":0.212},{"k":"v","a":2,"y":3.8,"d":0.239},{"k":"v","a":2,"y":3.9,"d":0.269},{"k":"v","a":2,"y":4.0,"d":0.295},{"k":"v","a":2,"y":4.1,"d":0.318},{"k":"v","a":2,"y":4.2,"d":0.333},{"k":"v","a":2,"y":4.3,"d":0.345},{"k":"v","a":2,"y":4.4,"d":0.345},{"k":"v","a":2,"y":4.5,"d":0.333},{"k":"v","a":2,"y":4.6,"d":0.307},{"k":"v","a":2,"y":4.7,"d":0.269},{"k":"v","a":2,"y":4.8,"d":0.212},{"k":"v","a":2,"y":4.9,"d":0.155},{"k":"v","a":2,"y":5.0,"d":0.085},
{"k":"v","a":3,"y":2.73,"d":0.034},{"k":"v","a":3,"y":2.8,"d":0.03},{"k":"v","a":3,"y":2.9,"d":0.03},{"k":"v","a":3,"y":3.0,"d":0.038},{"k":"v","a":3,"y":3.1,"d":0.05},{"k":"v","a":3,"y":3.2,"d":0.064},{"k":"v","a":3,"y":3.3,"d":0.083},{"k":"v","a":3,"y":3.4,"d":0.106},{"k":"v","a":3,"y":3.5,"d":0.133},{"k":"v","a":3,"y":3.6,"d":0.17},{"k":"v","a":3,"y":3.7,"d":0.227},{"k":"v","a":3,"y":3.8,"d":0.284},{"k":"v","a":3,"y":3.9,"d":0.322},{"k":"v","a":3,"y":4.0,"d":0.34},{"k":"v","a":3,"y":4.1,"d":0.348},{"k":"v","a":3,"y":4.2,"d":0.348},{"k":"v","a":3,"y":4.3,"d":0.348},{"k":"v","a":3,"y":4.4,"d":0.34},{"k":"v","a":3,"y":4.5,"d":0.322},{"k":"v","a":3,"y":4.6,"d":0.295},{"k":"v","a":3,"y":4.7,"d":0.227},{"k":"v","a":3,"y":4.8,"d":0.15},{"k":"v","a":3,"y":4.9,"d":0.076},{"k":"v","a":3,"y":4.95,"d":0.042},
{"k":"v","a":4,"y":3.2,"d":0.066},{"k":"v","a":4,"y":3.3,"d":0.064},{"k":"v","a":4,"y":3.4,"d":0.068},{"k":"v","a":4,"y":3.5,"d":0.083},{"k":"v","a":4,"y":3.6,"d":0.102},{"k":"v","a":4,"y":3.7,"d":0.133},{"k":"v","a":4,"y":3.8,"d":0.17},{"k":"v","a":4,"y":3.9,"d":0.208},{"k":"v","a":4,"y":4.0,"d":0.265},{"k":"v","a":4,"y":4.1,"d":0.34},{"k":"v","a":4,"y":4.2,"d":0.405},{"k":"v","a":4,"y":4.3,"d":0.443},{"k":"v","a":4,"y":4.4,"d":0.455},{"k":"v","a":4,"y":4.5,"d":0.435},{"k":"v","a":4,"y":4.6,"d":0.398},{"k":"v","a":4,"y":4.7,"d":0.322},{"k":"v","a":4,"y":4.8,"d":0.246},{"k":"v","a":4,"y":4.9,"d":0.15},{"k":"v","a":4,"y":5.0,"d":0.066},
{"k":"b","a":1,"lo":3.0,"q1":3.9,"med":4.2,"q3":4.5,"hi":5.0},{"k":"b","a":2,"lo":2.7,"q1":3.77,"med":4.15,"q3":4.49,"hi":5.0},{"k":"b","a":3,"lo":2.78,"q1":3.75,"med":4.05,"q3":4.4,"hi":4.95},{"k":"b","a":4,"lo":3.2,"q1":3.96,"med":4.3,"q3":4.54,"hi":5.0},
{"k":"o","a":1,"y":2.97},{"k":"o","a":1,"y":2.92},{"k":"o","a":3,"y":2.75},{"k":"o","a":3,"y":2.73}
],
"p33": [
{"k":"v","a":1,"y":2.9,"d":0.041},{"k":"v","a":1,"y":3.5,"d":0.045},{"k":"v","a":1,"y":4,"d":0.038},{"k":"v","a":1,"y":4.5,"d":0.049},{"k":"v","a":1,"y":5,"d":0.06},{"k":"v","a":1,"y":5.5,"d":0.079},{"k":"v","a":1,"y":6,"d":0.105},{"k":"v","a":1,"y":6.5,"d":0.135},{"k":"v","a":1,"y":7,"d":0.18},{"k":"v","a":1,"y":7.5,"d":0.225},{"k":"v","a":1,"y":8,"d":0.274},{"k":"v","a":1,"y":8.5,"d":0.293},{"k":"v","a":1,"y":9,"d":0.323},{"k":"v","a":1,"y":9.5,"d":0.368},{"k":"v","a":1,"y":10,"d":0.424},{"k":"v","a":1,"y":10.5,"d":0.443},{"k":"v","a":1,"y":11,"d":0.424},{"k":"v","a":1,"y":11.5,"d":0.387},{"k":"v","a":1,"y":12,"d":0.323},{"k":"v","a":1,"y":12.5,"d":0.255},{"k":"v","a":1,"y":13,"d":0.18},{"k":"v","a":1,"y":13.5,"d":0.105},{"k":"v","a":1,"y":14.1,"d":0.034},
{"k":"v","a":2,"y":2.48,"d":0.056},{"k":"v","a":2,"y":3,"d":0.056},{"k":"v","a":2,"y":3.5,"d":0.056},{"k":"v","a":2,"y":4,"d":0.064},{"k":"v","a":2,"y":4.5,"d":0.075},{"k":"v","a":2,"y":5,"d":0.101},{"k":"v","a":2,"y":5.5,"d":0.131},{"k":"v","a":2,"y":6,"d":0.161},{"k":"v","a":2,"y":6.5,"d":0.199},{"k":"v","a":2,"y":7,"d":0.237},{"k":"v","a":2,"y":7.5,"d":0.274},{"k":"v","a":2,"y":8,"d":0.308},{"k":"v","a":2,"y":8.5,"d":0.338},{"k":"v","a":2,"y":9,"d":0.364},{"k":"v","a":2,"y":9.5,"d":0.387},{"k":"v","a":2,"y":10,"d":0.375},{"k":"v","a":2,"y":10.5,"d":0.357},{"k":"v","a":2,"y":11,"d":0.327},{"k":"v","a":2,"y":11.5,"d":0.282},{"k":"v","a":2,"y":12,"d":0.233},{"k":"v","a":2,"y":12.5,"d":0.169},{"k":"v","a":2,"y":13,"d":0.094},{"k":"v","a":2,"y":13.45,"d":0.037},
{"k":"v","a":3,"y":3.0,"d":0.062},{"k":"v","a":3,"y":3.5,"d":0.075},{"k":"v","a":3,"y":4,"d":0.068},{"k":"v","a":3,"y":4.5,"d":0.056},{"k":"v","a":3,"y":5,"d":0.064},{"k":"v","a":3,"y":5.5,"d":0.075},{"k":"v","a":3,"y":6,"d":0.094},{"k":"v","a":3,"y":6.5,"d":0.113},{"k":"v","a":3,"y":7,"d":0.143},{"k":"v","a":3,"y":7.5,"d":0.18},{"k":"v","a":3,"y":8,"d":0.218},{"k":"v","a":3,"y":8.5,"d":0.255},{"k":"v","a":3,"y":9,"d":0.289},{"k":"v","a":3,"y":9.5,"d":0.319},{"k":"v","a":3,"y":10,"d":0.338},{"k":"v","a":3,"y":10.5,"d":0.345},{"k":"v","a":3,"y":11,"d":0.338},{"k":"v","a":3,"y":11.5,"d":0.319},{"k":"v","a":3,"y":12,"d":0.282},{"k":"v","a":3,"y":12.5,"d":0.233},{"k":"v","a":3,"y":13,"d":0.158},{"k":"v","a":3,"y":13.5,"d":0.094},{"k":"v","a":3,"y":14,"d":0.045},{"k":"v","a":3,"y":14.43,"d":0.02},
{"k":"v","a":4,"y":3.25,"d":0.064},{"k":"v","a":4,"y":3.5,"d":0.071},{"k":"v","a":4,"y":4,"d":0.083},{"k":"v","a":4,"y":4.5,"d":0.094},{"k":"v","a":4,"y":5,"d":0.109},{"k":"v","a":4,"y":5.5,"d":0.128},{"k":"v","a":4,"y":6,"d":0.15},{"k":"v","a":4,"y":6.5,"d":0.184},{"k":"v","a":4,"y":7,"d":0.225},{"k":"v","a":4,"y":7.5,"d":0.27},{"k":"v","a":4,"y":8,"d":0.308},{"k":"v","a":4,"y":8.5,"d":0.345},{"k":"v","a":4,"y":9,"d":0.383},{"k":"v","a":4,"y":9.5,"d":0.413},{"k":"v","a":4,"y":10,"d":0.42},{"k":"v","a":4,"y":10.5,"d":0.402},{"k":"v","a":4,"y":11,"d":0.364},{"k":"v","a":4,"y":11.5,"d":0.308},{"k":"v","a":4,"y":12,"d":0.252},{"k":"v","a":4,"y":12.5,"d":0.195},{"k":"v","a":4,"y":13,"d":0.139},{"k":"v","a":4,"y":13.5,"d":0.083},{"k":"v","a":4,"y":13.94,"d":0.039},
{"k":"b","a":1,"lo":3.7,"q1":8.25,"med":10,"q3":11.22,"hi":14.1},{"k":"b","a":2,"lo":2.5,"q1":7.48,"med":9.29,"q3":10.76,"hi":13.45},{"k":"b","a":3,"lo":3.3,"q1":7.96,"med":9.65,"q3":11.09,"hi":14.43},{"k":"b","a":4,"lo":3.4,"q1":7.89,"med":9.45,"q3":10.89,"hi":13.94},
{"k":"o","a":1,"y":3.55},{"k":"o","a":1,"y":3.5},{"k":"o","a":1,"y":2.95},{"k":"o","a":3,"y":3.2},{"k":"o","a":3,"y":3.1},{"k":"o","a":3,"y":3.0},{"k":"o","a":4,"y":3.25}
]
},
"vconcat": [
{
 "width": 1847, "height": 42,
 "layer": [
  {"data": {"values": [{"line": "top"}, {"line": "bottom"}]},
   "mark": {"type": "rule", "color": "black", "strokeWidth": 1.6},
   "encoding": {"y": {"field": "line", "type": "nominal", "scale": {"type": "point", "domain": ["top", "bottom"], "range": [4, 39.5], "padding": 0}, "axis": null}}},
  {"data": {"values": [{"col": "Provided #Long"}, {"col": "Provided Helpfulness"}, {"col": "Provided accuracy"}]},
   "mark": {"type": "text", "align": "left", "baseline": "middle", "font": "Liberation Serif", "fontStyle": "italic", "fontSize": 17, "color": "black"},
   "encoding": {"x": {"field": "col", "type": "nominal", "scale": {"type": "point", "domain": ["Provided #Long", "Provided Helpfulness", "Provided accuracy"], "range": [254, 1409], "padding": 0}, "axis": null}, "text": {"field": "col"}}}
 ]
},
{
 "spacing": 129,
 "hconcat": [
  {"width": 120, "height": 12, "data": {"values": [{"r": "Fall2015"}]}, "mark": {"type": "text", "align": "center", "baseline": "middle", "font": "Liberation Serif", "fontSize": 18, "color": "black"}, "encoding": {"text": {"field": "r"}}},
  {"spacing": 162, "hconcat": [
   {"data": {"name": "p11"}, "spacing": 0,
    "facet": {"column": {"field": "a", "type": "ordinal", "title": "Assignment", "header": {"labelOrient": "bottom", "titleOrient": "bottom"}}},
    "spec": {"width": 94, "height": 324, "view": {"fill": "#EBEBEB", "stroke": null},
     "resolve": {"scale": {"x": "independent"}, "axis": {"x": "independent"}},
     "layer": [
      {"transform": [{"filter": "datum.k==='v'"}], "mark": {"type": "area", "orient": "horizontal", "fill": "white", "stroke": "#555555", "strokeWidth": 0.8},
       "encoding": {"y": {"field": "y", "type": "quantitative", "scale": {"domain": [-2, 42], "nice": false, "zero": false},
          "axis": {"title": "ProvidedLong", "values": [0, 5, 10, 15, 20, 25, 30, 35, 40], "format": "d", "labelExpr": "datum.value%10===0 ? datum.label : ''", "gridWidth": {"condition": {"test": "datum.value%10===0", "value": 1.1}, "value": 0.5}, "tickOpacity": {"condition": {"test": "datum.value%10===0", "value": 1}, "value": 0}}},
        "x": {"field": "d", "type": "quantitative", "stack": null, "scale": {"domain": [-0.525, 0.525], "reverse": true, "nice": false, "zero": false}, "axis": null}, "x2": {"datum": 0}}},
      {"transform": [{"filter": "datum.k==='b'"}], "mark": {"type": "rule", "color": "white", "strokeWidth": 1.1},
       "encoding": {"x": {"datum": 0, "type": "quantitative", "scale": {"domain": [-0.525, 0.525], "nice": false, "zero": false}, "axis": null}}},
      {"transform": [{"filter": "datum.k==='v'"}], "mark": {"type": "area", "orient": "horizontal", "fill": "white", "stroke": "#555555", "strokeWidth": 0.8},
       "encoding": {"y": {"field": "y", "type": "quantitative", "scale": {"domain": [-2, 42], "nice": false, "zero": false}},
        "x": {"field": "d", "type": "quantitative", "stack": null, "scale": {"domain": [-0.525, 0.525], "nice": false, "zero": false}, "axis": null}, "x2": {"datum": 0}}},
      {"transform": [{"filter": "datum.k==='b'"}], "mark": {"type": "rule", "color": "#444444", "strokeWidth": 0.9},
       "encoding": {"x": {"datum": 0, "type": "quantitative", "scale": {"domain": [-0.525, 0.525], "nice": false, "zero": false}, "axis": null},
        "y": {"field": "lo", "type": "quantitative", "scale": {"domain": [-2, 42], "nice": false, "zero": false}}, "y2": {"field": "hi"}}},
      {"transform": [{"filter": "datum.k==='b'"}], "mark": {"type": "bar", "fill": "white", "stroke": "#444444", "strokeWidth": 0.9, "size": 10},
       "encoding": {"x": {"datum": 0, "type": "quantitative", "scale": {"domain": [-0.525, 0.525], "nice": false, "zero": false}, "axis": null},
        "y": {"field": "q1", "type": "quantitative", "scale": {"domain": [-2, 42], "nice": false, "zero": false}}, "y2": {"field": "q3"}}},
      {"transform": [{"filter": "datum.k==='b'"}], "mark": {"type": "tick", "orient": "horizontal", "color": "#222222", "thickness": 1.8, "size": 10},
       "encoding": {"x": {"datum": 0, "type": "quantitative", "scale": {"domain": [-0.525, 0.525], "nice": false, "zero": false}, "axis": null},
        "y": {"field": "med", "type": "quantitative", "scale": {"domain": [-2, 42], "nice": false, "zero": false}}}},
      {"transform": [{"filter": "datum.k==='o'"}], "mark": {"type": "circle", "color": "#1A1A1A", "size": 6, "opacity": 1},
       "encoding": {"x": {"datum": 0, "type": "quantitative", "scale": {"domain": [-0.525, 0.525], "nice": false, "zero": false}, "axis": null},
        "y": {"field": "y", "type": "quantitative", "scale": {"domain": [-2, 42], "nice": false, "zero": false}}}}
     ]}},
   {"spacing": 157, "hconcat": [
   {"data": {"name": "p12"}, "spacing": 0,
    "facet": {"column": {"field": "a", "type": "ordinal", "title": "Assignment", "header": {"labelOrient": "bottom", "titleOrient": "bottom"}}},
    "spec": {"width": 92.5, "height": 323, "view": {"fill": "#EBEBEB", "stroke": null},
     "resolve": {"scale": {"x": "independent"}, "axis": {"x": "independent"}},
     "layer": [
      {"transform": [{"filter": "datum.k==='v'"}], "mark": {"type": "area", "orient": "horizontal", "fill": "white", "stroke": "#555555", "strokeWidth": 0.8},
       "encoding": {"y": {"field": "y", "type": "quantitative", "scale": {"domain": [2.48, 5.12], "nice": false, "zero": false},
          "axis": {"title": "ProvidedHelpfulness", "values": [2.5, 2.75, 3, 3.25, 3.5, 3.75, 4, 4.25, 4.5, 4.75, 5], "format": ".1f", "labelExpr": "abs(datum.value/0.5-round(datum.value/0.5))<0.001 ? datum.label : ''"}},
        "x": {"field": "d", "type": "quantitative", "stack": null, "scale": {"domain": [-0.525, 0.525], "reverse": true, "nice": false, "zero": false}, "axis": null}, "x2": {"datum": 0}}},
      {"transform": [{"filter": "datum.k==='b'"}], "mark": {"type": "rule", "color": "white", "strokeWidth": 1.1},
       "encoding": {"x": {"datum": 0, "type": "quantitative", "scale": {"domain": [-0.525, 0.525], "nice": false, "zero": false}, "axis": null}}},
      {"transform": [{"filter": "datum.k==='v'"}], "mark": {"type": "area", "orient": "horizontal", "fill": "white", "stroke": "#555555", "strokeWidth": 0.8},
       "encoding": {"y": {"field": "y", "type": "quantitative", "scale": {"domain": [2.48, 5.12], "nice": false, "zero": false}},
        "x": {"field": "d", "type": "quantitative", "stack": null, "scale": {"domain": [-0.525, 0.525], "nice": false, "zero": false}, "axis": null}, "x2": {"datum": 0}}},
      {"transform": [{"filter": "datum.k==='b'"}], "mark": {"type": "rule", "color": "#444444", "strokeWidth": 0.9},
       "encoding": {"x": {"datum": 0, "type": "quantitative", "scale": {"domain": [-0.525, 0.525], "nice": false, "zero": false}, "axis": null},
        "y": {"field": "lo", "type": "quantitative", "scale": {"domain": [2.48, 5.12], "nice": false, "zero": false}}, "y2": {"field": "hi"}}},
      {"transform": [{"filter": "datum.k==='b'"}], "mark": {"type": "bar", "fill": "white", "stroke": "#444444", "strokeWidth": 0.9, "size": 10},
       "encoding": {"x": {"datum": 0, "type": "quantitative", "scale": {"domain": [-0.525, 0.525], "nice": false, "zero": false}, "axis": null},
        "y": {"field": "q1", "type": "quantitative", "scale": {"domain": [2.48, 5.12], "nice": false, "zero": false}}, "y2": {"field": "q3"}}},
      {"transform": [{"filter": "datum.k==='b'"}], "mark": {"type": "tick", "orient": "horizontal", "color": "#222222", "thickness": 1.8, "size": 10},
       "encoding": {"x": {"datum": 0, "type": "quantitative", "scale": {"domain": [-0.525, 0.525], "nice": false, "zero": false}, "axis": null},
        "y": {"field": "med", "type": "quantitative", "scale": {"domain": [2.48, 5.12], "nice": false, "zero": false}}}},
      {"transform": [{"filter": "datum.k==='o'"}], "mark": {"type": "circle", "color": "#1A1A1A", "size": 6, "opacity": 1},
       "encoding": {"x": {"datum": 0, "type": "quantitative", "scale": {"domain": [-0.525, 0.525], "nice": false, "zero": false}, "axis": null},
        "y": {"field": "y", "type": "quantitative", "scale": {"domain": [2.48, 5.12], "nice": false, "zero": false}}}}
     ]}},
   {"data": {"name": "p13"}, "spacing": 0,
    "facet": {"column": {"field": "a", "type": "ordinal", "title": "Assignment", "header": {"labelOrient": "bottom", "titleOrient": "bottom"}}},
    "spec": {"width": 93.25, "height": 325, "view": {"fill": "#EBEBEB", "stroke": null},
     "resolve": {"scale": {"x": "independent"}, "axis": {"x": "independent"}},
     "layer": [
      {"transform": [{"filter": "datum.k==='v'"}], "mark": {"type": "area", "orient": "horizontal", "fill": "white", "stroke": "#555555", "strokeWidth": 0.8},
       "encoding": {"y": {"field": "y", "type": "quantitative", "scale": {"domain": [1.375, 15.125], "nice": false, "zero": false},
          "axis": {"title": "ProvidedAccuracy", "values": [2.5, 5, 7.5, 10, 12.5, 15], "format": "d", "labelExpr": "abs(datum.value/5-round(datum.value/5))<0.001 ? datum.label : ''", "gridWidth": {"condition": {"test": "abs(datum.value/5-round(datum.value/5))<0.001", "value": 1.1}, "value": 0.5}, "tickOpacity": {"condition": {"test": "abs(datum.value/5-round(datum.value/5))<0.001", "value": 1}, "value": 0}}},
        "x": {"field": "d", "type": "quantitative", "stack": null, "scale": {"domain": [-0.525, 0.525], "reverse": true, "nice": false, "zero": false}, "axis": null}, "x2": {"datum": 0}}},
      {"transform": [{"filter": "datum.k==='b'"}], "mark": {"type": "rule", "color": "white", "strokeWidth": 1.1},
       "encoding": {"x": {"datum": 0, "type": "quantitative", "scale": {"domain": [-0.525, 0.525], "nice": false, "zero": false}, "axis": null}}},
      {"transform": [{"filter": "datum.k==='v'"}], "mark": {"type": "area", "orient": "horizontal", "fill": "white", "stroke": "#555555", "strokeWidth": 0.8},
       "encoding": {"y": {"field": "y", "type": "quantitative", "scale": {"domain": [1.375, 15.125], "nice": false, "zero": false}},
        "x": {"field": "d", "type": "quantitative", "stack": null, "scale": {"domain": [-0.525, 0.525], "nice": false, "zero": false}, "axis": null}, "x2": {"datum": 0}}},
      {"transform": [{"filter": "datum.k==='b'"}], "mark": {"type": "rule", "color": "#444444", "strokeWidth": 0.9},
       "encoding": {"x": {"datum": 0, "type": "quantitative", "scale": {"domain": [-0.525, 0.525], "nice": false, "zero": false}, "axis": null},
        "y": {"field": "lo", "type": "quantitative", "scale": {"domain": [1.375, 15.125], "nice": false, "zero": false}}, "y2": {"field": "hi"}}},
      {"transform": [{"filter": "datum.k==='b'"}], "mark": {"type": "bar", "fill": "white", "stroke": "#444444", "strokeWidth": 0.9, "size": 10},
       "encoding": {"x": {"datum": 0, "type": "quantitative", "scale": {"domain": [-0.525, 0.525], "nice": false, "zero": false}, "axis": null},
        "y": {"field": "q1", "type": "quantitative", "scale": {"domain": [1.375, 15.125], "nice": false, "zero": false}}, "y2": {"field": "q3"}}},
      {"transform": [{"filter": "datum.k==='b'"}], "mark": {"type": "tick", "orient": "horizontal", "color": "#222222", "thickness": 1.8, "size": 10},
       "encoding": {"x": {"datum": 0, "type": "quantitative", "scale": {"domain": [-0.525, 0.525], "nice": false, "zero": false}, "axis": null},
        "y": {"field": "med", "type": "quantitative", "scale": {"domain": [1.375, 15.125], "nice": false, "zero": false}}}},
      {"transform": [{"filter": "datum.k==='o'"}], "mark": {"type": "circle", "color": "#1A1A1A", "size": 6, "opacity": 1},
       "encoding": {"x": {"datum": 0, "type": "quantitative", "scale": {"domain": [-0.525, 0.525], "nice": false, "zero": false}, "axis": null},
        "y": {"field": "y", "type": "quantitative", "scale": {"domain": [1.375, 15.125], "nice": false, "zero": false}}}}
     ]}}
   ]}
  ]}
 ]
},
{
 "spacing": 129,
 "hconcat": [
  {"width": 120, "height": 12, "data": {"values": [{"r": "Fall2016"}]}, "mark": {"type": "text", "align": "center", "baseline": "middle", "font": "Liberation Serif", "fontSize": 18, "color": "black"}, "encoding": {"text": {"field": "r"}}},
  {"spacing": 158, "hconcat": [
   {"data": {"name": "p21"}, "spacing": 0,
    "facet": {"column": {"field": "a", "type": "ordinal", "title": "Assignment", "header": {"labelOrient": "bottom", "titleOrient": "bottom", "labelFontSize": 12, "titleFontSize": 18, "titlePadding": -9}}},
    "spec": {"width": 95, "height": 293, "view": {"fill": "#EBEBEB", "stroke": null},
     "resolve": {"scale": {"x": "independent"}, "axis": {"x": "independent"}},
     "layer": [
      {"transform": [{"filter": "datum.k==='v'"}], "mark": {"type": "area", "orient": "horizontal", "fill": "white", "stroke": "#555555", "strokeWidth": 0.8},
       "encoding": {"y": {"field": "y", "type": "quantitative", "scale": {"domain": [-2, 42], "nice": false, "zero": false},
          "axis": {"title": "ProvidedLong", "titleFontSize": 18, "labelFontSize": 12, "values": [0, 5, 10, 15, 20, 25, 30, 35, 40], "format": "d", "labelExpr": "datum.value%10===0 ? datum.label : ''", "gridWidth": {"condition": {"test": "datum.value%10===0", "value": 1.1}, "value": 0.5}, "tickOpacity": {"condition": {"test": "datum.value%10===0", "value": 1}, "value": 0}}},
        "x": {"field": "d", "type": "quantitative", "stack": null, "scale": {"domain": [-0.525, 0.525], "reverse": true, "nice": false, "zero": false}, "axis": null}, "x2": {"datum": 0}}},
      {"transform": [{"filter": "datum.k==='b'"}], "mark": {"type": "rule", "color": "white", "strokeWidth": 1.1},
       "encoding": {"x": {"datum": 0, "type": "quantitative", "scale": {"domain": [-0.525, 0.525], "nice": false, "zero": false}, "axis": null}}},
      {"transform": [{"filter": "datum.k==='v'"}], "mark": {"type": "area", "orient": "horizontal", "fill": "white", "stroke": "#555555", "strokeWidth": 0.8},
       "encoding": {"y": {"field": "y", "type": "quantitative", "scale": {"domain": [-2, 42], "nice": false, "zero": false}},
        "x": {"field": "d", "type": "quantitative", "stack": null, "scale": {"domain": [-0.525, 0.525], "nice": false, "zero": false}, "axis": null}, "x2": {"datum": 0}}},
      {"transform": [{"filter": "datum.k==='b'"}], "mark": {"type": "rule", "color": "#444444", "strokeWidth": 0.9},
       "encoding": {"x": {"datum": 0, "type": "quantitative", "scale": {"domain": [-0.525, 0.525], "nice": false, "zero": false}, "axis": null},
        "y": {"field": "lo", "type": "quantitative", "scale": {"domain": [-2, 42], "nice": false, "zero": false}}, "y2": {"field": "hi"}}},
      {"transform": [{"filter": "datum.k==='b'"}], "mark": {"type": "bar", "fill": "white", "stroke": "#444444", "strokeWidth": 0.9, "size": 10},
       "encoding": {"x": {"datum": 0, "type": "quantitative", "scale": {"domain": [-0.525, 0.525], "nice": false, "zero": false}, "axis": null},
        "y": {"field": "q1", "type": "quantitative", "scale": {"domain": [-2, 42], "nice": false, "zero": false}}, "y2": {"field": "q3"}}},
      {"transform": [{"filter": "datum.k==='b'"}], "mark": {"type": "tick", "orient": "horizontal", "color": "#222222", "thickness": 1.8, "size": 10},
       "encoding": {"x": {"datum": 0, "type": "quantitative", "scale": {"domain": [-0.525, 0.525], "nice": false, "zero": false}, "axis": null},
        "y": {"field": "med", "type": "quantitative", "scale": {"domain": [-2, 42], "nice": false, "zero": false}}}},
      {"transform": [{"filter": "datum.k==='o'"}], "mark": {"type": "circle", "color": "#1A1A1A", "size": 6, "opacity": 1},
       "encoding": {"x": {"datum": 0, "type": "quantitative", "scale": {"domain": [-0.525, 0.525], "nice": false, "zero": false}, "axis": null},
        "y": {"field": "y", "type": "quantitative", "scale": {"domain": [-2, 42], "nice": false, "zero": false}}}}
     ]}},
   {"spacing": 157, "hconcat": [
   {"data": {"name": "p22"}, "spacing": 0,
    "facet": {"column": {"field": "a", "type": "ordinal", "title": "Assignment", "header": {"labelOrient": "bottom", "titleOrient": "bottom", "labelFontSize": 12, "titleFontSize": 18, "titlePadding": -9}}},
    "spec": {"width": 93.75, "height": 293, "view": {"fill": "#EBEBEB", "stroke": null},
     "resolve": {"scale": {"x": "independent"}, "axis": {"x": "independent"}},
     "layer": [
      {"transform": [{"filter": "datum.k==='v'"}], "mark": {"type": "area", "orient": "horizontal", "fill": "white", "stroke": "#555555", "strokeWidth": 0.8},
       "encoding": {"y": {"field": "y", "type": "quantitative", "scale": {"domain": [2.375, 5.125], "nice": false, "zero": false},
          "axis": {"title": "ProvidedHelpfulness", "titleFontSize": 18, "labelFontSize": 12, "values": [2.5, 2.75, 3, 3.25, 3.5, 3.75, 4, 4.25, 4.5, 4.75, 5], "format": ".1f", "labelExpr": "abs(datum.value/0.5-round(datum.value/0.5))<0.001 ? datum.label : ''"}},
        "x": {"field": "d", "type": "quantitative", "stack": null, "scale": {"domain": [-0.525, 0.525], "reverse": true, "nice": false, "zero": false}, "axis": null}, "x2": {"datum": 0}}},
      {"transform": [{"filter": "datum.k==='b'"}], "mark": {"type": "rule", "color": "white", "strokeWidth": 1.1},
       "encoding": {"x": {"datum": 0, "type": "quantitative", "scale": {"domain": [-0.525, 0.525], "nice": false, "zero": false}, "axis": null}}},
      {"transform": [{"filter": "datum.k==='v'"}], "mark": {"type": "area", "orient": "horizontal", "fill": "white", "stroke": "#555555", "strokeWidth": 0.8},
       "encoding": {"y": {"field": "y", "type": "quantitative", "scale": {"domain": [2.375, 5.125], "nice": false, "zero": false}},
        "x": {"field": "d", "type": "quantitative", "stack": null, "scale": {"domain": [-0.525, 0.525], "nice": false, "zero": false}, "axis": null}, "x2": {"datum": 0}}},
      {"transform": [{"filter": "datum.k==='b'"}], "mark": {"type": "rule", "color": "#444444", "strokeWidth": 0.9},
       "encoding": {"x": {"datum": 0, "type": "quantitative", "scale": {"domain": [-0.525, 0.525], "nice": false, "zero": false}, "axis": null},
        "y": {"field": "lo", "type": "quantitative", "scale": {"domain": [2.375, 5.125], "nice": false, "zero": false}}, "y2": {"field": "hi"}}},
      {"transform": [{"filter": "datum.k==='b'"}], "mark": {"type": "bar", "fill": "white", "stroke": "#444444", "strokeWidth": 0.9, "size": 10},
       "encoding": {"x": {"datum": 0, "type": "quantitative", "scale": {"domain": [-0.525, 0.525], "nice": false, "zero": false}, "axis": null},
        "y": {"field": "q1", "type": "quantitative", "scale": {"domain": [2.375, 5.125], "nice": false, "zero": false}}, "y2": {"field": "q3"}}},
      {"transform": [{"filter": "datum.k==='b'"}], "mark": {"type": "tick", "orient": "horizontal", "color": "#222222", "thickness": 1.8, "size": 10},
       "encoding": {"x": {"datum": 0, "type": "quantitative", "scale": {"domain": [-0.525, 0.525], "nice": false, "zero": false}, "axis": null},
        "y": {"field": "med", "type": "quantitative", "scale": {"domain": [2.375, 5.125], "nice": false, "zero": false}}}},
      {"transform": [{"filter": "datum.k==='o'"}], "mark": {"type": "circle", "color": "#1A1A1A", "size": 6, "opacity": 1},
       "encoding": {"x": {"datum": 0, "type": "quantitative", "scale": {"domain": [-0.525, 0.525], "nice": false, "zero": false}, "axis": null},
        "y": {"field": "y", "type": "quantitative", "scale": {"domain": [2.375, 5.125], "nice": false, "zero": false}}}}
     ]}},
   {"data": {"name": "p23"}, "spacing": 0,
    "facet": {"column": {"field": "a", "type": "ordinal", "title": "Assignment", "header": {"labelOrient": "bottom", "titleOrient": "bottom", "labelFontSize": 12, "titleFontSize": 18, "titlePadding": -9}}},
    "spec": {"width": 92, "height": 294, "view": {"fill": "#EBEBEB", "stroke": null},
     "resolve": {"scale": {"x": "independent"}, "axis": {"x": "independent"}},
     "layer": [
      {"transform": [{"filter": "datum.k==='v'"}], "mark": {"type": "area", "orient": "horizontal", "fill": "white", "stroke": "#555555", "strokeWidth": 0.8},
       "encoding": {"y": {"field": "y", "type": "quantitative", "scale": {"domain": [16.9, 29.85], "nice": false, "zero": false},
          "axis": {"title": "ProvidedAccuracy", "titleFontSize": 18, "labelFontSize": 12, "values": [17.5, 18.75, 20, 21.25, 22.5, 23.75, 25, 26.25, 27.5, 28.75], "format": ".1f", "labelExpr": "abs(datum.value/2.5-round(datum.value/2.5))<0.001 ? datum.label : ''", "gridWidth": {"condition": {"test": "abs(datum.value/2.5-round(datum.value/2.5))<0.001", "value": 1.1}, "value": 0.5}, "tickOpacity": {"condition": {"test": "abs(datum.value/2.5-round(datum.value/2.5))<0.001", "value": 1}, "value": 0}}},
        "x": {"field": "d", "type": "quantitative", "stack": null, "scale": {"domain": [-0.525, 0.525], "reverse": true, "nice": false, "zero": false}, "axis": null}, "x2": {"datum": 0}}},
      {"transform": [{"filter": "datum.k==='b'"}], "mark": {"type": "rule", "color": "white", "strokeWidth": 1.1},
       "encoding": {"x": {"datum": 0, "type": "quantitative", "scale": {"domain": [-0.525, 0.525], "nice": false, "zero": false}, "axis": null}}},
      {"transform": [{"filter": "datum.k==='v'"}], "mark": {"type": "area", "orient": "horizontal", "fill": "white", "stroke": "#555555", "strokeWidth": 0.8},
       "encoding": {"y": {"field": "y", "type": "quantitative", "scale": {"domain": [16.9, 29.85], "nice": false, "zero": false}},
        "x": {"field": "d", "type": "quantitative", "stack": null, "scale": {"domain": [-0.525, 0.525], "nice": false, "zero": false}, "axis": null}, "x2": {"datum": 0}}},
      {"transform": [{"filter": "datum.k==='b'"}], "mark": {"type": "rule", "color": "#444444", "strokeWidth": 0.9},
       "encoding": {"x": {"datum": 0, "type": "quantitative", "scale": {"domain": [-0.525, 0.525], "nice": false, "zero": false}, "axis": null},
        "y": {"field": "lo", "type": "quantitative", "scale": {"domain": [16.9, 29.85], "nice": false, "zero": false}}, "y2": {"field": "hi"}}},
      {"transform": [{"filter": "datum.k==='b'"}], "mark": {"type": "bar", "fill": "white", "stroke": "#444444", "strokeWidth": 0.9, "size": 10},
       "encoding": {"x": {"datum": 0, "type": "quantitative", "scale": {"domain": [-0.525, 0.525], "nice": false, "zero": false}, "axis": null},
        "y": {"field": "q1", "type": "quantitative", "scale": {"domain": [16.9, 29.85], "nice": false, "zero": false}}, "y2": {"field": "q3"}}},
      {"transform": [{"filter": "datum.k==='b'"}], "mark": {"type": "tick", "orient": "horizontal", "color": "#222222", "thickness": 1.8, "size": 10},
       "encoding": {"x": {"datum": 0, "type": "quantitative", "scale": {"domain": [-0.525, 0.525], "nice": false, "zero": false}, "axis": null},
        "y": {"field": "med", "type": "quantitative", "scale": {"domain": [16.9, 29.85], "nice": false, "zero": false}}}},
      {"transform": [{"filter": "datum.k==='o'"}], "mark": {"type": "circle", "color": "#1A1A1A", "size": 6, "opacity": 1},
       "encoding": {"x": {"datum": 0, "type": "quantitative", "scale": {"domain": [-0.525, 0.525], "nice": false, "zero": false}, "axis": null},
        "y": {"field": "y", "type": "quantitative", "scale": {"domain": [16.9, 29.85], "nice": false, "zero": false}}}}
     ]}}
   ]}
  ]}
 ]
},
{
 "spacing": 129,
 "hconcat": [
  {"width": 120, "height": 12, "data": {"values": [{"r": "Fall2018"}]}, "mark": {"type": "text", "align": "center", "baseline": "middle", "font": "Liberation Serif", "fontSize": 18, "color": "black"}, "encoding": {"text": {"field": "r"}}},
  {"spacing": 162, "hconcat": [
   {"data": {"name": "p31"}, "spacing": 0,
    "facet": {"column": {"field": "a", "type": "ordinal", "title": "Assignment", "header": {"labelOrient": "bottom", "titleOrient": "bottom", "titlePadding": -10}}},
    "spec": {"width": 93.75, "height": 303, "view": {"fill": "#EBEBEB", "stroke": null},
     "resolve": {"scale": {"x": "independent"}, "axis": {"x": "independent"}},
     "layer": [
      {"transform": [{"filter": "datum.k==='v'"}], "mark": {"type": "area", "orient": "horizontal", "fill": "white", "stroke": "#555555", "strokeWidth": 0.8},
       "encoding": {"y": {"field": "y", "type": "quantitative", "scale": {"domain": [-1.5, 31.5], "nice": false, "zero": false},
          "axis": {"title": "ProvidedLong", "values": [0, 5, 10, 15, 20, 25, 30], "format": "d", "labelExpr": "datum.value%10===0 ? datum.label : ''", "gridWidth": {"condition": {"test": "datum.value%10===0", "value": 1.1}, "value": 0.5}, "tickOpacity": {"condition": {"test": "datum.value%10===0", "value": 1}, "value": 0}}},
        "x": {"field": "d", "type": "quantitative", "stack": null, "scale": {"domain": [-0.525, 0.525], "reverse": true, "nice": false, "zero": false}, "axis": null}, "x2": {"datum": 0}}},
      {"transform": [{"filter": "datum.k==='b'"}], "mark": {"type": "rule", "color": "white", "strokeWidth": 1.1},
       "encoding": {"x": {"datum": 0, "type": "quantitative", "scale": {"domain": [-0.525, 0.525], "nice": false, "zero": false}, "axis": null}}},
      {"transform": [{"filter": "datum.k==='v'"}], "mark": {"type": "area", "orient": "horizontal", "fill": "white", "stroke": "#555555", "strokeWidth": 0.8},
       "encoding": {"y": {"field": "y", "type": "quantitative", "scale": {"domain": [-1.5, 31.5], "nice": false, "zero": false}},
        "x": {"field": "d", "type": "quantitative", "stack": null, "scale": {"domain": [-0.525, 0.525], "nice": false, "zero": false}, "axis": null}, "x2": {"datum": 0}}},
      {"transform": [{"filter": "datum.k==='b'"}], "mark": {"type": "rule", "color": "#444444", "strokeWidth": 0.9},
       "encoding": {"x": {"datum": 0, "type": "quantitative", "scale": {"domain": [-0.525, 0.525], "nice": false, "zero": false}, "axis": null},
        "y": {"field": "lo", "type": "quantitative", "scale": {"domain": [-1.5, 31.5], "nice": false, "zero": false}}, "y2": {"field": "hi"}}},
      {"transform": [{"filter": "datum.k==='b'"}], "mark": {"type": "bar", "fill": "white", "stroke": "#444444", "strokeWidth": 0.9, "size": 10},
       "encoding": {"x": {"datum": 0, "type": "quantitative", "scale": {"domain": [-0.525, 0.525], "nice": false, "zero": false}, "axis": null},
        "y": {"field": "q1", "type": "quantitative", "scale": {"domain": [-1.5, 31.5], "nice": false, "zero": false}}, "y2": {"field": "q3"}}},
      {"transform": [{"filter": "datum.k==='b'"}], "mark": {"type": "tick", "orient": "horizontal", "color": "#222222", "thickness": 1.8, "size": 10},
       "encoding": {"x": {"datum": 0, "type": "quantitative", "scale": {"domain": [-0.525, 0.525], "nice": false, "zero": false}, "axis": null},
        "y": {"field": "med", "type": "quantitative", "scale": {"domain": [-1.5, 31.5], "nice": false, "zero": false}}}}
     ]}},
   {"spacing": 157, "hconcat": [
   {"data": {"name": "p32"}, "spacing": 0,
    "facet": {"column": {"field": "a", "type": "ordinal", "title": "Assignment", "header": {"labelOrient": "bottom", "titleOrient": "bottom", "titlePadding": -10}}},
    "spec": {"width": 92.75, "height": 300, "view": {"fill": "#EBEBEB", "stroke": null},
     "resolve": {"scale": {"x": "independent"}, "axis": {"x": "independent"}},
     "layer": [
      {"transform": [{"filter": "datum.k==='v'"}], "mark": {"type": "area", "orient": "horizontal", "fill": "white", "stroke": "#555555", "strokeWidth": 0.8},
       "encoding": {"y": {"field": "y", "type": "quantitative", "scale": {"domain": [2.585, 5.115], "nice": false, "zero": false},
          "axis": {"title": "ProvidedHelpfulness", "values": [3, 3.25, 3.5, 3.75, 4, 4.25, 4.5, 4.75, 5], "format": ".1f", "labelExpr": "abs(datum.value/0.5-round(datum.value/0.5))<0.001 ? datum.label : ''"}},
        "x": {"field": "d", "type": "quantitative", "stack": null, "scale": {"domain": [-0.525, 0.525], "reverse": true, "nice": false, "zero": false}, "axis": null}, "x2": {"datum": 0}}},
      {"transform": [{"filter": "datum.k==='b'"}], "mark": {"type": "rule", "color": "white", "strokeWidth": 1.1},
       "encoding": {"x": {"datum": 0, "type": "quantitative", "scale": {"domain": [-0.525, 0.525], "nice": false, "zero": false}, "axis": null}}},
      {"transform": [{"filter": "datum.k==='v'"}], "mark": {"type": "area", "orient": "horizontal", "fill": "white", "stroke": "#555555", "strokeWidth": 0.8},
       "encoding": {"y": {"field": "y", "type": "quantitative", "scale": {"domain": [2.585, 5.115], "nice": false, "zero": false}},
        "x": {"field": "d", "type": "quantitative", "stack": null, "scale": {"domain": [-0.525, 0.525], "nice": false, "zero": false}, "axis": null}, "x2": {"datum": 0}}},
      {"transform": [{"filter": "datum.k==='b'"}], "mark": {"type": "rule", "color": "#444444", "strokeWidth": 0.9},
       "encoding": {"x": {"datum": 0, "type": "quantitative", "scale": {"domain": [-0.525, 0.525], "nice": false, "zero": false}, "axis": null},
        "y": {"field": "lo", "type": "quantitative", "scale": {"domain": [2.585, 5.115], "nice": false, "zero": false}}, "y2": {"field": "hi"}}},
      {"transform": [{"filter": "datum.k==='b'"}], "mark": {"type": "bar", "fill": "white", "stroke": "#444444", "strokeWidth": 0.9, "size": 10},
       "encoding": {"x": {"datum": 0, "type": "quantitative", "scale": {"domain": [-0.525, 0.525], "nice": false, "zero": false}, "axis": null},
        "y": {"field": "q1", "type": "quantitative", "scale": {"domain": [2.585, 5.115], "nice": false, "zero": false}}, "y2": {"field": "q3"}}},
      {"transform": [{"filter": "datum.k==='b'"}], "mark": {"type": "tick", "orient": "horizontal", "color": "#222222", "thickness": 1.8, "size": 10},
       "encoding": {"x": {"datum": 0, "type": "quantitative", "scale": {"domain": [-0.525, 0.525], "nice": false, "zero": false}, "axis": null},
        "y": {"field": "med", "type": "quantitative", "scale": {"domain": [2.585, 5.115], "nice": false, "zero": false}}}},
      {"transform": [{"filter": "datum.k==='o'"}], "mark": {"type": "circle", "color": "#1A1A1A", "size": 6, "opacity": 1},
       "encoding": {"x": {"datum": 0, "type": "quantitative", "scale": {"domain": [-0.525, 0.525], "nice": false, "zero": false}, "axis": null},
        "y": {"field": "y", "type": "quantitative", "scale": {"domain": [2.585, 5.115], "nice": false, "zero": false}}}}
     ]}},
   {"data": {"name": "p33"}, "spacing": 0,
    "facet": {"column": {"field": "a", "type": "ordinal", "title": "Assignment", "header": {"labelOrient": "bottom", "titleOrient": "bottom", "titlePadding": -10}}},
    "spec": {"width": 93, "height": 299, "view": {"fill": "#EBEBEB", "stroke": null},
     "resolve": {"scale": {"x": "independent"}, "axis": {"x": "independent"}},
     "layer": [
      {"transform": [{"filter": "datum.k==='v'"}], "mark": {"type": "area", "orient": "horizontal", "fill": "white", "stroke": "#555555", "strokeWidth": 0.8},
       "encoding": {"y": {"field": "y", "type": "quantitative", "scale": {"domain": [1.9, 14.98], "nice": false, "zero": false},
          "axis": {"title": "ProvidedAccuracy", "values": [2.5, 5, 7.5, 10, 12.5], "format": "d", "labelExpr": "abs(datum.value/5-round(datum.value/5))<0.001 ? datum.label : ''", "gridWidth": {"condition": {"test": "abs(datum.value/5-round(datum.value/5))<0.001", "value": 1.1}, "value": 0.5}, "tickOpacity": {"condition": {"test": "abs(datum.value/5-round(datum.value/5))<0.001", "value": 1}, "value": 0}}},
        "x": {"field": "d", "type": "quantitative", "stack": null, "scale": {"domain": [-0.525, 0.525], "reverse": true, "nice": false, "zero": false}, "axis": null}, "x2": {"datum": 0}}},
      {"transform": [{"filter": "datum.k==='b'"}], "mark": {"type": "rule", "color": "white", "strokeWidth": 1.1},
       "encoding": {"x": {"datum": 0, "type": "quantitative", "scale": {"domain": [-0.525, 0.525], "nice": false, "zero": false}, "axis": null}}},
      {"transform": [{"filter": "datum.k==='v'"}], "mark": {"type": "area", "orient": "horizontal", "fill": "white", "stroke": "#555555", "strokeWidth": 0.8},
       "encoding": {"y": {"field": "y", "type": "quantitative", "scale": {"domain": [1.9, 14.98], "nice": false, "zero": false}},
        "x": {"field": "d", "type": "quantitative", "stack": null, "scale": {"domain": [-0.525, 0.525], "nice": false, "zero": false}, "axis": null}, "x2": {"datum": 0}}},
      {"transform": [{"filter": "datum.k==='b'"}], "mark": {"type": "rule", "color": "#444444", "strokeWidth": 0.9},
       "encoding": {"x": {"datum": 0, "type": "quantitative", "scale": {"domain": [-0.525, 0.525], "nice": false, "zero": false}, "axis": null},
        "y": {"field": "lo", "type": "quantitative", "scale": {"domain": [1.9, 14.98], "nice": false, "zero": false}}, "y2": {"field": "hi"}}},
      {"transform": [{"filter": "datum.k==='b'"}], "mark": {"type": "bar", "fill": "white", "stroke": "#444444", "strokeWidth": 0.9, "size": 10},
       "encoding": {"x": {"datum": 0, "type": "quantitative", "scale": {"domain": [-0.525, 0.525], "nice": false, "zero": false}, "axis": null},
        "y": {"field": "q1", "type": "quantitative", "scale": {"domain": [1.9, 14.98], "nice": false, "zero": false}}, "y2": {"field": "q3"}}},
      {"transform": [{"filter": "datum.k==='b'"}], "mark": {"type": "tick", "orient": "horizontal", "color": "#222222", "thickness": 1.8, "size": 10},
       "encoding": {"x": {"datum": 0, "type": "quantitative", "scale": {"domain": [-0.525, 0.525], "nice": false, "zero": false}, "axis": null},
        "y": {"field": "med", "type": "quantitative", "scale": {"domain": [1.9, 14.98], "nice": false, "zero": false}}}},
      {"transform": [{"filter": "datum.k==='o'"}], "mark": {"type": "circle", "color": "#1A1A1A", "size": 6, "opacity": 1},
       "encoding": {"x": {"datum": 0, "type": "quantitative", "scale": {"domain": [-0.525, 0.525], "nice": false, "zero": false}, "axis": null},
        "y": {"field": "y", "type": "quantitative", "scale": {"domain": [1.9, 14.98], "nice": false, "zero": false}}}}
     ]}}
   ]}
  ]}
 ]
}
]
}
